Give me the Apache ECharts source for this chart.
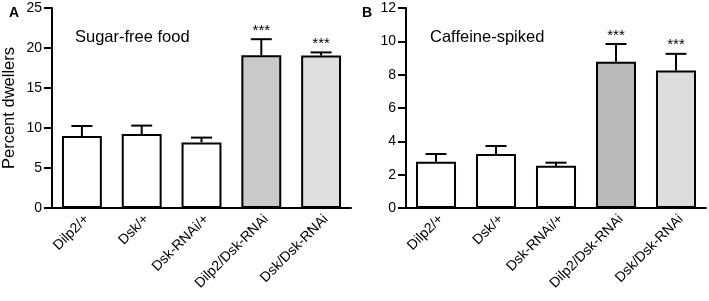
<!DOCTYPE html>
<html><head><meta charset="utf-8">
<script src="https://cdn.jsdelivr.net/npm/echarts@6/dist/echarts.min.js"></script>
<style>html,body{margin:0;padding:0;background:#fff}#c{width:709px;height:301px}</style>
</head><body><div id="c"></div>
<script>
const categories = ['Dilp2/+', 'Dsk/+', 'Dsk-RNAi/+', 'Dilp2/Dsk-RNAi', 'Dsk/Dsk-RNAi'];
const sugarMeans = [9.0, 9.25, 8.2, 19.1, 19.05];
const sugarErr = [1.25, 1.05, 0.6, 2.0, 0.4];
const caffeineMeans = [2.78, 3.24, 2.54, 8.77, 8.25];
const caffeineErr = [0.46, 0.48, 0.18, 1.07, 1.0];
const significance = ['', '', '', '***', '***'];
const fillsA = ['#ffffff', '#ffffff', '#ffffff', '#c9c9c9', '#dedede'];
const fillsB = ['#ffffff', '#ffffff', '#ffffff', '#b9b9b9', '#dcdcdc'];

const FONT = 'Liberation Sans, Arial, sans-serif';
const chart = echarts.init(document.getElementById('c'), null, {renderer: 'canvas'});

function barData(vals, fills) {
  return vals.map((v, i) => ({value: v, itemStyle: {color: fills[i]}}));
}
function errData(means, errs) {
  return means.map((m, i) => [i, m, m + errs[i], significance[i]]);
}
function renderErr(params, api) {
  const x = api.value(0);
  const lo = api.coord([x, api.value(1)]);
  const hi = api.coord([x, api.value(2)]);
  const half = 10.5;
  const children = [
    {type: 'line', shape: {x1: lo[0], y1: lo[1], x2: hi[0], y2: hi[1]}, style: {stroke: '#000', lineWidth: 2}},
    {type: 'line', shape: {x1: hi[0] - half, y1: hi[1], x2: hi[0] + half, y2: hi[1]}, style: {stroke: '#000', lineWidth: 2}}
  ];
  const sig = api.value(3);
  if (sig) {
    children.push({type: 'text', x: hi[0], y: hi[1] - 1,
      style: {text: sig, fill: '#000', font: '15px ' + FONT, align: 'center', verticalAlign: 'bottom'}});
  }
  return {type: 'group', children};
}

const axisCommonX = {
  type: 'category', data: categories,
  axisLine: {lineStyle: {color: '#000', width: 2}},
  axisTick: {alignWithLabel: true, length: 5, lineStyle: {color: '#000', width: 2}},
  axisLabel: {rotate: 45, color: '#000', fontSize: 14, fontFamily: FONT, margin: 4, interval: 0, verticalAlign: 'top'}
};
const axisCommonY = {
  type: 'value', min: 0,
  axisLine: {show: true, lineStyle: {color: '#000', width: 2}},
  axisTick: {show: true, length: 8, lineStyle: {color: '#000', width: 2}},
  axisLabel: {color: '#000', fontSize: 14, fontFamily: FONT, margin: 10},
  splitLine: {show: false}
};

chart.setOption({
  animation: false,
  title: [
    {text: 'A', left: 4, top: 1, textStyle: {fontSize: 14, fontWeight: 'bold', fontFamily: FONT, color: '#000'}},
    {text: 'B', left: 357, top: 1, textStyle: {fontSize: 14, fontWeight: 'bold', fontFamily: FONT, color: '#000'}},
    {text: 'Sugar-free food', left: 70, top: 24, textStyle: {fontSize: 16.5, fontWeight: 'normal', fontFamily: FONT, color: '#000'}},
    {text: 'Caffeine-spiked', left: 425, top: 24, textStyle: {fontSize: 16.5, fontWeight: 'normal', fontFamily: FONT, color: '#000'}}
  ],
  grid: [
    {left: 51, top: 8, width: 300, height: 200},
    {left: 406, top: 8, width: 300, height: 200}
  ],
  xAxis: [
    Object.assign({gridIndex: 0}, axisCommonX),
    Object.assign({gridIndex: 1}, axisCommonX)
  ],
  yAxis: [
    Object.assign({gridIndex: 0, max: 25, interval: 5, name: 'Percent dwellers', nameLocation: 'middle', nameGap: 34,
      nameTextStyle: {fontSize: 16.5, fontFamily: FONT, color: '#000'}}, axisCommonY),
    Object.assign({gridIndex: 1, max: 12, interval: 2}, axisCommonY)
  ],
  series: [
    {type: 'bar', xAxisIndex: 0, yAxisIndex: 0, barWidth: '66.7%', data: barData(sugarMeans, fillsA),
      itemStyle: {borderColor: '#000', borderWidth: 2}},
    {type: 'custom', xAxisIndex: 0, yAxisIndex: 0, renderItem: renderErr, data: errData(sugarMeans, sugarErr), z: 1},
    {type: 'bar', xAxisIndex: 1, yAxisIndex: 1, barWidth: '66.7%', data: barData(caffeineMeans, fillsB),
      itemStyle: {borderColor: '#000', borderWidth: 2}},
    {type: 'custom', xAxisIndex: 1, yAxisIndex: 1, renderItem: renderErr, data: errData(caffeineMeans, caffeineErr), z: 1}
  ]
});
</script></body></html>
